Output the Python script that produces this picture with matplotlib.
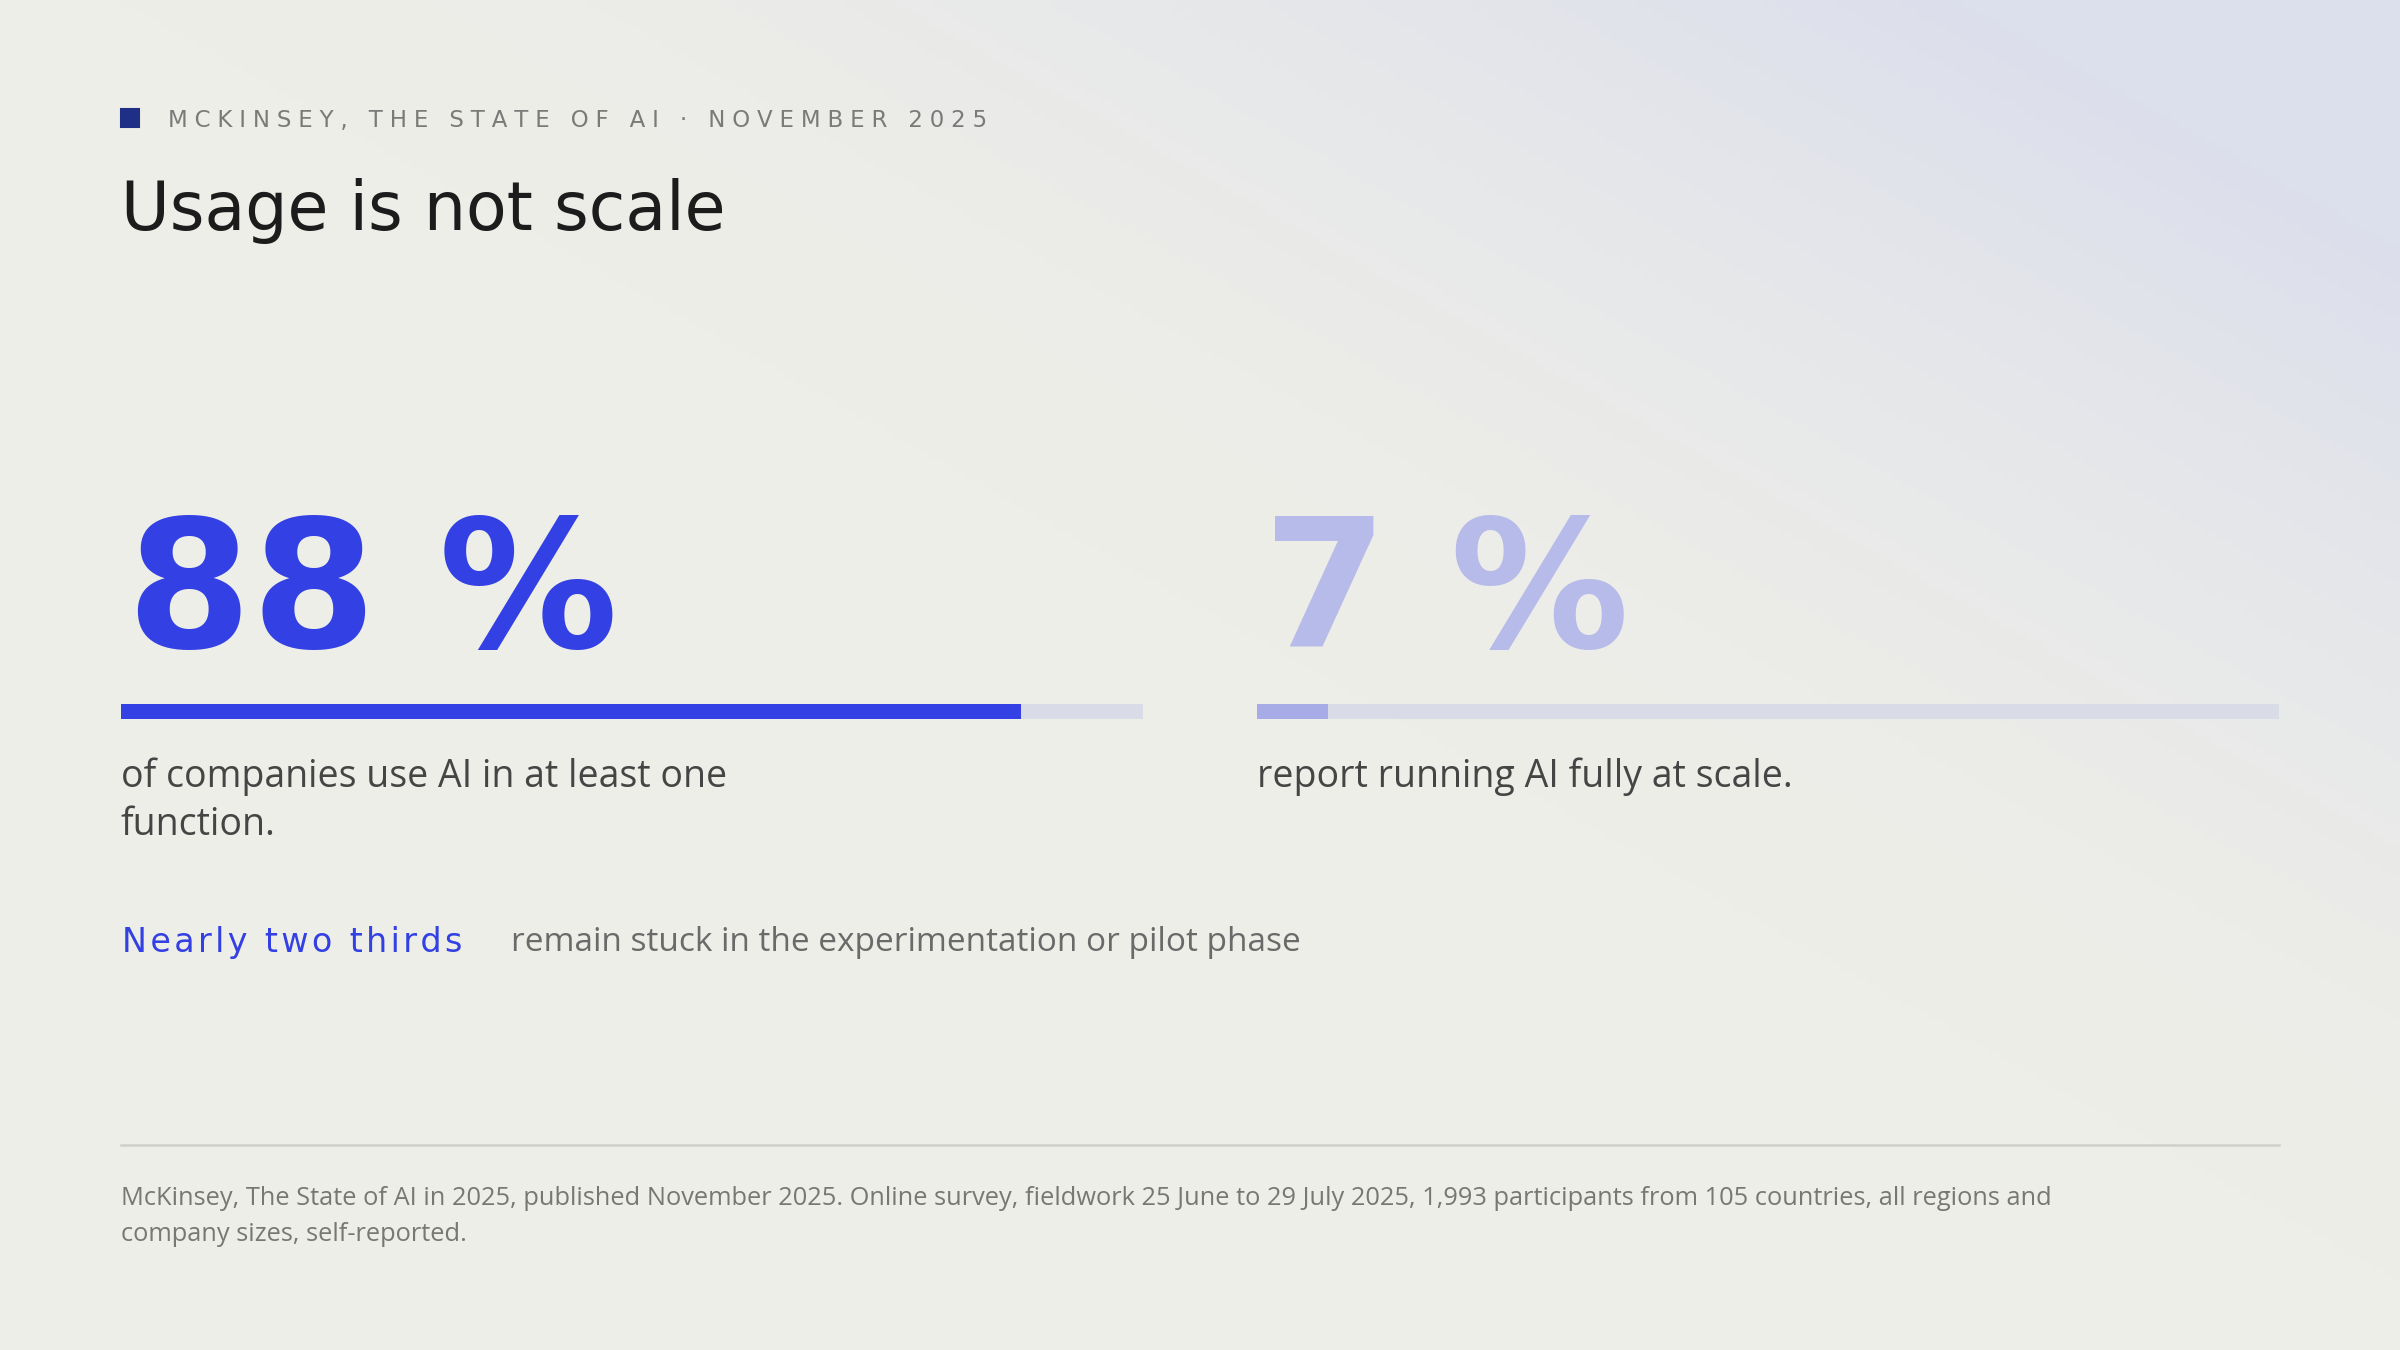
import matplotlib
matplotlib.use("Agg")
import matplotlib.pyplot as plt
import numpy as np

values = [88, 7]
value_labels = ["88 %", "7 %"]
captions = ["of companies use AI in at least one\nfunction.", "report running AI fully at scale."]
kicker = "MCKINSEY, THE STATE OF AI · NOVEMBER 2025"
title = "Usage is not scale"
hl_bold = "Nearly two thirds"
hl_rest = "remain stuck in the experimentation or pilot phase"
source = ("McKinsey, The State of AI in 2025, published November 2025. Online survey, fieldwork 25 June to 29 July 2025, 1,993 participants from 105 countries, all regions and\n"
          "company sizes, self-reported.")

W, H = 1568, 882
def fx(x): return x / W
def fy(y): return 1 - y / H

DISP = ['DejaVu Sans']
BODY = ['Open Sans', 'DejaVu Sans']
plt.rcParams['font.family'] = BODY
fig = plt.figure(figsize=(16, 9), dpi=150)

bg = fig.add_axes([0, 0, 1, 1]); bg.axis('off')
yy, xx = np.mgrid[0:1:200j, 0:1:356j]
t = np.clip((xx - 0.5) * 1.3 + (0.45 - yy) * 1.3, 0, 1) ** 1.6
c0 = np.array([238, 238, 232]) / 255; c1 = np.array([220, 223, 236]) / 255
img = c0[None, None, :] * (1 - t[..., None]) + c1[None, None, :] * t[..., None]
bg.imshow(img, extent=[0, 1, 0, 1], aspect='auto', origin='upper')
bg.set_xlim(0, 1); bg.set_ylim(0, 1)

def spaced(s, sep):
    return sep.join(s)

fig.patches.append(plt.Rectangle((fx(79), fy(83)), fx(12), 12 / H, transform=fig.transFigure, color='#1f2f86'))
fig.text(fx(110), fy(79), spaced(kicker, "\u2009\u200a"), fontsize=11, family=DISP, color='#7a7a78', va='center', ha='left')
fig.text(fx(79), fy(150), title, fontsize=32, family=DISP, color='#1c1c1c', va='baseline', ha='left', fontweight='medium')

dark = ['#3340e3', '#b7bbe9']
fills = ['#3340e3', '#a8ace6']
lefts = [79, 821]
for i in range(2):
    fig.text(fx(lefts[i] + 4), fy(423), value_labels[i], fontsize=86, family=DISP, fontweight='bold', color=dark[i], va='baseline', ha='left')
    ax = fig.add_axes([fx(lefts[i]), fy(470), fx(668), 10 / H])
    ax.barh([0], [100], height=1, color='#d9dbe7', left=0)
    ax.barh([0], [values[i]], height=1, color=fills[i], left=0)
    ax.set_xlim(0, 100); ax.set_ylim(-0.5, 0.5); ax.axis('off')
    fig.text(fx(lefts[i]), fy(495), captions[i], fontsize=18, color='#454545', va='top', ha='left', linespacing=1.35)

fig.text(fx(80), fy(616), spaced(hl_bold, "\u200a"), fontsize=16, family=DISP, color='#3340e3', va='center', ha='left')
fig.text(fx(334), fy(616), hl_rest, fontsize=16, color='#6a6a6a', va='center', ha='left')

fig.add_artist(plt.Line2D([fx(79), fx(1489)], [fy(748), fy(748)], transform=fig.transFigure, color='#cfcfcb', lw=1.2))
fig.text(fx(79), fy(775), source, fontsize=12.2, color='#777775', va='top', ha='left', linespacing=1.55)

fig.savefig("out.png", dpi=150)
